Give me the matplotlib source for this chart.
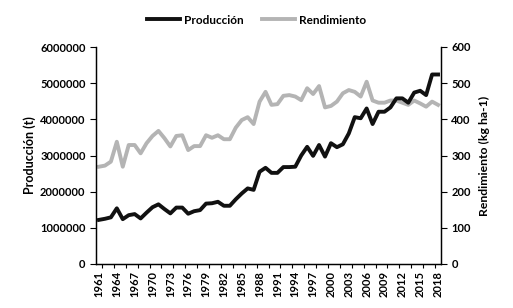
import numpy as np
import matplotlib
matplotlib.use("Agg")
import matplotlib.pyplot as plt

plt.rcParams['font.family'] = ['Lato', 'DejaVu Sans']
plt.rcParams['font.weight'] = 'bold'

years = list(range(1961, 2019))
produccion = [1.22, 1.25, 1.29, 1.54, 1.24, 1.35, 1.38, 1.26, 1.42, 1.57,
              1.65, 1.52, 1.40, 1.56, 1.56, 1.39, 1.46, 1.49, 1.67, 1.68,
              1.72, 1.61, 1.61, 1.79, 1.95, 2.09, 2.05, 2.55, 2.66, 2.52,
              2.52, 2.68, 2.68, 2.69, 3.00, 3.24, 2.99, 3.29, 2.97, 3.34,
              3.23, 3.31, 3.61, 4.06, 4.03, 4.30, 3.87, 4.21, 4.21, 4.33,
              4.58, 4.58, 4.46, 4.74, 4.79, 4.67, 5.24, 5.24]
produccion = [v * 1e6 for v in produccion]
rendimiento = [269, 272, 283, 338, 269, 329, 329, 306, 334, 354,
               368, 348, 325, 354, 356, 315, 326, 326, 356, 349,
               356, 345, 345, 377, 398, 406, 387, 449, 476, 440,
               442, 465, 467, 463, 453, 486, 470, 492, 433, 437,
               449, 472, 481, 476, 463, 504, 452, 446, 446, 452,
               452, 446, 440, 452, 444, 435, 449, 440]

fig = plt.figure(figsize=(5.13, 3.08), dpi=100)
ax = fig.add_axes([96/513, 1-264/308, (441-96)/513, 217/308])
ax2 = ax.twinx()

l1, = ax.plot(years, produccion, color='#111111', lw=2.8, label='Producción', zorder=3)
l2, = ax2.plot(years, rendimiento, color='#b4b4b4', lw=2.8, label='Rendimiento')
ax.set_zorder(ax2.get_zorder() + 1)
ax.patch.set_visible(False)

ax.set_xlim(1960.5, 2018.5)
ax.set_ylim(0, 6000000)
ax2.set_ylim(0, 600)
ax.set_yticks(np.arange(0, 6000001, 1000000))
ax.set_yticklabels([str(int(v)) for v in np.arange(0, 6000001, 1000000)])
ax2.set_yticks(np.arange(0, 601, 100))

ax.set_xticks(years[::3])
ax.set_xticklabels([str(y) for y in years[::3]], rotation=90)
ax.set_xticks(np.arange(1961.5, 2018.6, 2), minor=True)
ax.tick_params(axis='x', which='major', length=0, pad=5, labelsize=8)
ax.tick_params(axis='x', which='minor', length=3, width=0.8)
ax.tick_params(axis='y', length=4, width=0.8, labelsize=8)
ax2.tick_params(axis='y', length=4, width=0.8, labelsize=8)
for a in (ax, ax2):
    a.spines['top'].set_visible(False)
    for s in a.spines.values():
        s.set_linewidth(0.9)

ax.set_ylabel('Producción (t)', fontsize=9, fontweight='bold', labelpad=3)
ax2.set_ylabel('Rendimiento (kg ha-1)', fontsize=8.8, fontweight='bold', labelpad=6)

fig.legend(handles=[l1, l2], loc='center', bbox_to_anchor=(0.5, 0.935), ncol=2,
           frameon=False, fontsize=8.5, handlelength=2.8, columnspacing=1.6,
           handletextpad=0.3)

fig.savefig('out.png', dpi=100)
